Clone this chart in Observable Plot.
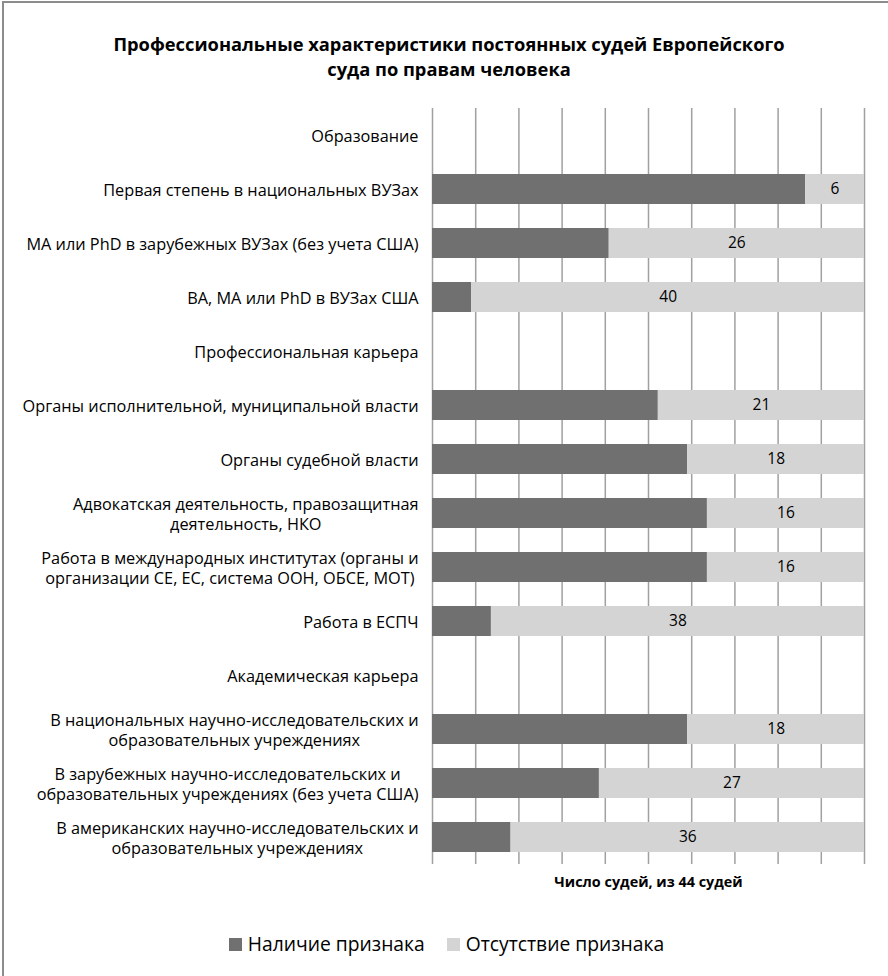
<!DOCTYPE html>
<html>
<head>
<meta charset="utf-8">
<script src="https://cdn.jsdelivr.net/npm/d3@7"></script>
<script src="https://cdn.jsdelivr.net/npm/@observablehq/plot@0.6"></script>
<style>
  html, body { margin: 0; padding: 0; background: #fff; width: 888px; height: 976px; overflow: hidden; font-family: "Open Sans", sans-serif; }
  #frame { position: absolute; left: 2px; top: 1px; width: 940px; height: 1040px; border-left: 2px solid #8c8c8c; border-top: 2px solid #8c8c8c; box-sizing: border-box; }
  #title { position: absolute; left: 0; top: 31px; width: 898px; text-align: center; font-weight: bold; font-size: 18.3px; line-height: 25px; color: #000; }
  #chart { position: absolute; left: 0; top: 96px; }
  #legend { position: absolute; left: 0; top: 930px; width: 893px; display: flex; justify-content: center; font-size: 19.3px; color: #000; }
  .item { display: flex; align-items: center; margin: 0 11px; }
  .sw { width: 13px; height: 13px; margin-right: 6px; margin-top: 2px; }
</style>
</head>
<body>
<div id="frame"></div>
<div id="title">Профессиональные характеристики постоянных судей Европейского<br>суда по правам человека</div>
<div id="chart"></div>
<div id="legend"></div>
<script>
const categories = [
  "Образование",
  "Первая степень в национальных ВУЗах",
  "МА или PhD в зарубежных ВУЗах (без учета США)",
  "ВА, МА или PhD в ВУЗах США",
  "Профессиональная карьера",
  "Органы исполнительной, муниципальной власти",
  "Органы судебной власти",
  "Адвокатская деятельность, правозащитная\nдеятельность, НКО",
  "Работа в международных институтах (органы и\nорганизации СЕ, ЕС, система ООН, ОБСЕ, МОТ)",
  "Работа в ЕСПЧ",
  "Академическая карьера",
  "В национальных научно-исследовательских и\nобразовательных учреждениях",
  "В зарубежных научно-исследовательских и\nобразовательных учреждениях (без учета США)",
  "В американских научно-исследовательских и\nобразовательных учреждениях"
];
const present = [null, 38, 18, 4, null, 23, 26, 28, 28, 6, null, 26, 17, 8];
const absent  = [null, 6, 26, 40, null, 21, 18, 16, 16, 38, null, 18, 27, 36];
const seriesNames = ["Наличие признака", "Отсутствие признака"];
const seriesColors = ["#707070", "#d4d4d4"];
const xTicks = [0, 4.4, 8.8, 13.2, 17.6, 22, 26.4, 30.8, 35.2, 39.6, 44];
const xTitle = "Число судей, из 44 судей";
const totalJudges = 44;

const rows = [];
categories.forEach((c, i) => {
  if (present[i] == null) return;
  rows.push({cat: c, series: seriesNames[0], value: present[i]});
  rows.push({cat: c, series: seriesNames[1], value: absent[i]});
});

const chart = Plot.plot({
  width: 888,
  height: 810,
  marginTop: 12,
  marginBottom: 42,
  marginLeft: 432,
  marginRight: 24,
  style: { fontFamily: "Open Sans, sans-serif", fontSize: "16px", color: "#000", background: "transparent" },
  x: { domain: [0, totalJudges], label: null },
  y: { domain: categories, paddingInner: 0.444, paddingOuter: 0.222, label: null },
  color: { domain: seriesNames, range: seriesColors },
  marks: [
    Plot.ruleX(xTicks, { stroke: "#a0a0a0", strokeWidth: 1.5 }),
    Plot.barX(rows, Plot.stackX({ x: "value", y: "cat", fill: "series", order: seriesNames })),
    Plot.text(rows, Plot.stackX({
      x: "value", y: "cat", z: "series", order: seriesNames,
      text: d => d.series === seriesNames[1] ? String(d.value) : "",
      fill: "#000", fontSize: 15.5
    })),
    Plot.axisY({ tickSize: 0, tickPadding: 14, fontSize: 16.3, lineHeight: 1.22, fill: "#000", label: null }),
    Plot.axisX({ ticks: xTicks, tickSize: 0, tickFormat: () => "", label: null }),
    Plot.text([xTitle], { frameAnchor: "bottom", lineAnchor: "middle", dy: 18, fontSize: 14.4, fontWeight: "bold", fill: "#000" })
  ]
});
document.getElementById("chart").appendChild(chart);

// Center multi-line category labels line by line (as in the original), block right-aligned
chart.querySelectorAll('[aria-label="y-axis tick label"] text').forEach(t => {
  const spans = t.querySelectorAll("tspan");
  if (spans.length < 2) return;
  const w = Math.max(...Array.from(spans, s => s.getComputedTextLength()));
  t.setAttribute("text-anchor", "middle");
  spans.forEach(s => s.setAttribute("x", -w / 2));
});

const legend = document.getElementById("legend");
seriesNames.forEach((n, i) => {
  const it = document.createElement("div");
  it.className = "item";
  const sw = document.createElement("span");
  sw.className = "sw";
  sw.style.background = seriesColors[i];
  const tx = document.createElement("span");
  tx.textContent = n;
  it.appendChild(sw); it.appendChild(tx);
  legend.appendChild(it);
});
</script>
</body>
</html>
